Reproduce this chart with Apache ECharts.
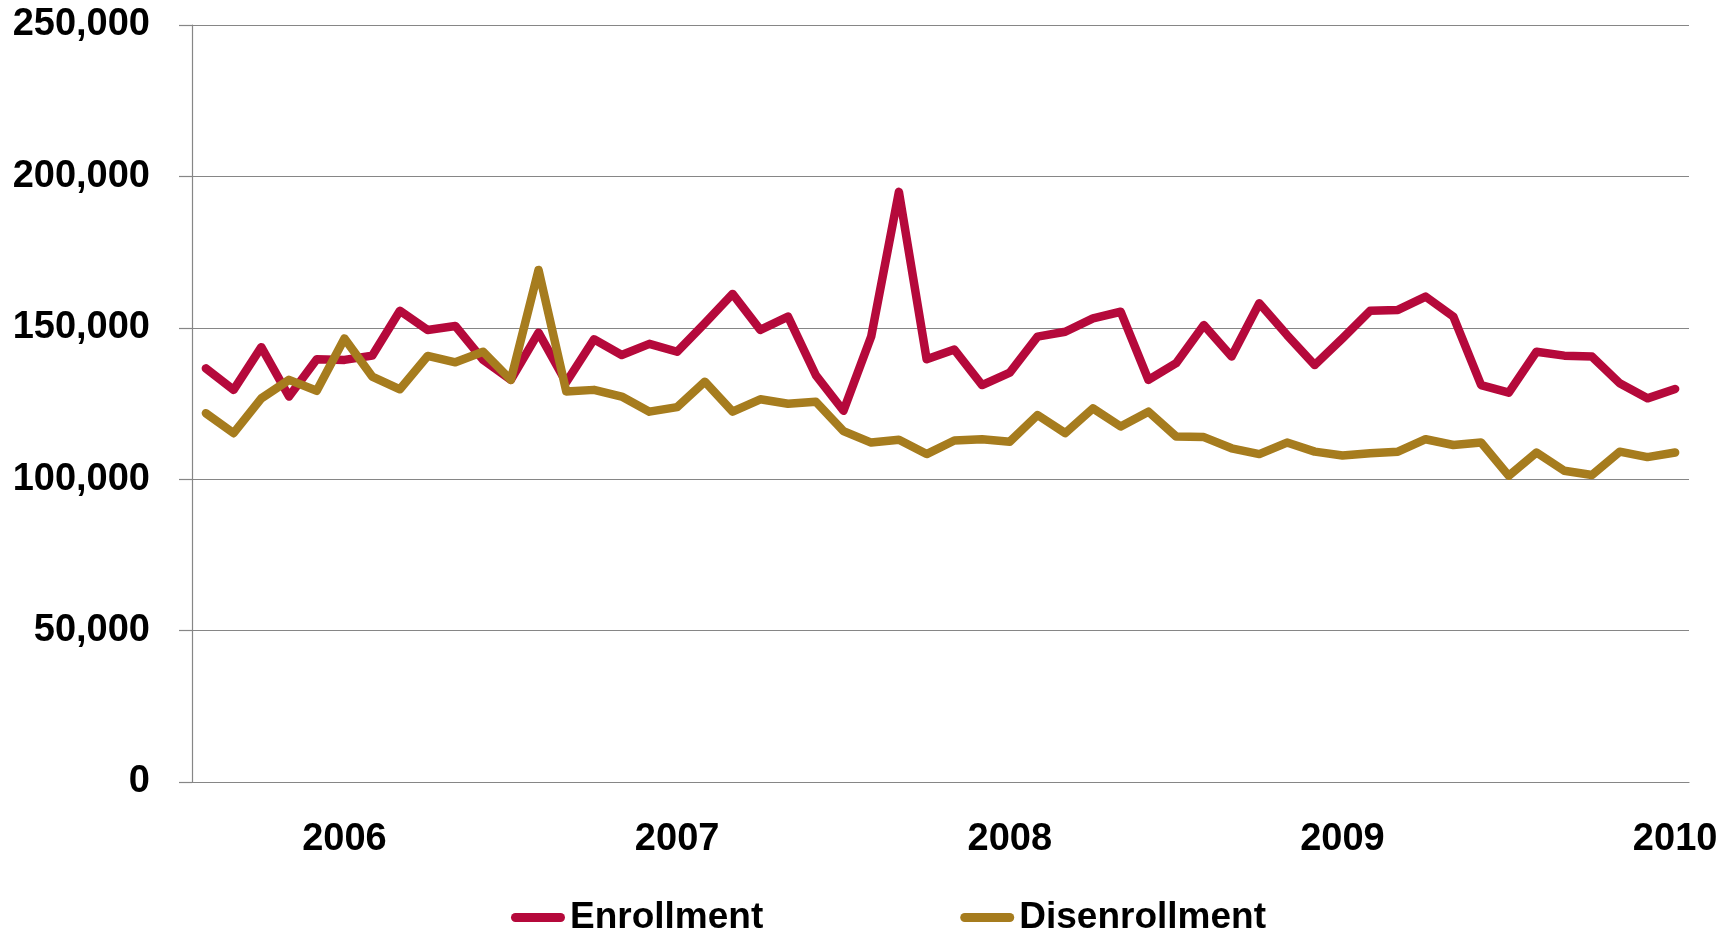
<!DOCTYPE html>
<html>
<head>
<meta charset="utf-8">
<title>Enrollment and Disenrollment</title>
<script src="https://cdn.jsdelivr.net/npm/echarts@6/dist/echarts.min.js"></script>
<style>
  html, body { margin: 0; padding: 0; background: #ffffff; }
  #chart { width: 1735px; height: 928px; }
</style>
</head>
<body>
<div id="chart"></div>
<script>
// Monthly periods, Aug 2005 – Jan 2010
const months = [
  '2005-08','2005-09','2005-10','2005-11','2005-12',
  '2006-01','2006-02','2006-03','2006-04','2006-05','2006-06','2006-07','2006-08','2006-09','2006-10','2006-11','2006-12',
  '2007-01','2007-02','2007-03','2007-04','2007-05','2007-06','2007-07','2007-08','2007-09','2007-10','2007-11','2007-12',
  '2008-01','2008-02','2008-03','2008-04','2008-05','2008-06','2008-07','2008-08','2008-09','2008-10','2008-11','2008-12',
  '2009-01','2009-02','2009-03','2009-04','2009-05','2009-06','2009-07','2009-08','2009-09','2009-10','2009-11','2009-12',
  '2010-01'
];

const enrollment = [
  136600, 129500, 143600, 127300, 139600,
  139400, 140800, 155600, 149300, 150600, 139400, 132800, 148400, 132000, 146200, 141000, 144700,
  142100, 151500, 161200, 149300, 153700, 134400, 122600, 147100, 194900, 139600, 142800, 131100,
  135200, 147100, 148700, 153100, 155300, 132800, 138300, 150900, 140500, 158100, 147600, 137700,
  146500, 155600, 155900, 160300, 153700, 131100, 128600, 142100, 140800, 140500, 131700, 126700,
  129800
];

const disenrollment = [
  121800, 115200, 126700, 132800, 129200,
  146500, 133900, 129700, 140700, 138600, 142100, 132800, 169100, 129000, 129500, 127300, 122300,
  123800, 132200, 122300, 126400, 124900, 125600, 115900, 112100, 113000, 108300, 112800, 113200,
  112400, 121200, 115200, 123400, 117400, 122300, 114100, 113900, 110200, 108300, 112100, 109100,
  107800, 108600, 109100, 113200, 111300, 112100, 101100, 108800, 102800, 101400, 109100, 107300,
  108800
];

const FONT = '"Liberation Sans", Arial, sans-serif';
const RED = '#B5093B';
const GOLD = '#A67C1E';
const GRID = '#868686';

// capsule-shaped legend swatch
const swatch = 'path://M4.5,0 H49.5 A4.5,4.5 0 0 1 49.5,9 H4.5 A4.5,4.5 0 0 1 4.5,0 Z';

const chart = echarts.init(document.getElementById('chart'), null, { renderer: 'canvas' });

chart.setOption({
  backgroundColor: '#ffffff',
  animation: false,
  grid: { left: 192, right: 46, top: 25, bottom: 146 },
  legend: {
    left: 506,
    top: 894,
    itemWidth: 54,
    itemHeight: 9,
    itemGap: 197,
    textStyle: { fontFamily: FONT, fontSize: 37, fontWeight: 'bold', color: '#000' },
    data: [
      { name: 'Enrollment', icon: swatch, itemStyle: { color: RED } },
      { name: 'Disenrollment', icon: swatch, itemStyle: { color: GOLD } }
    ]
  },
  xAxis: {
    type: 'category',
    data: months,
    boundaryGap: true,
    axisLine: { show: true, lineStyle: { color: GRID, width: 1.2 } },
    axisTick: { show: false },
    axisLabel: {
      interval: function (idx, val) { return val.slice(5) === '01'; },
      formatter: function (val) { return val.slice(0, 4); },
      margin: 39,
      fontFamily: FONT, fontSize: 38, fontWeight: 'bold', color: '#000'
    },
    splitLine: { show: false }
  },
  yAxis: {
    type: 'value',
    min: 0,
    max: 250000,
    interval: 50000,
    axisLine: { show: true, lineStyle: { color: GRID, width: 1.2 } },
    axisTick: { show: true, length: 13, lineStyle: { color: GRID, width: 1.2 } },
    axisLabel: {
      margin: 42,
      formatter: function (v) { return v.toLocaleString('en-US'); },
      fontFamily: FONT, fontSize: 38, fontWeight: 'bold', color: '#000'
    },
    splitLine: { show: true, lineStyle: { color: GRID, width: 1.2 } }
  },
  series: [
    {
      name: 'Enrollment',
      type: 'line',
      data: enrollment,
      showSymbol: false,
      symbol: 'none',
      lineStyle: { color: RED, width: 8.5, cap: 'round', join: 'round' },
      itemStyle: { color: RED }
    },
    {
      name: 'Disenrollment',
      type: 'line',
      data: disenrollment,
      showSymbol: false,
      symbol: 'none',
      lineStyle: { color: GOLD, width: 8.5, cap: 'round', join: 'round' },
      itemStyle: { color: GOLD }
    }
  ]
});
</script>
</body>
</html>
